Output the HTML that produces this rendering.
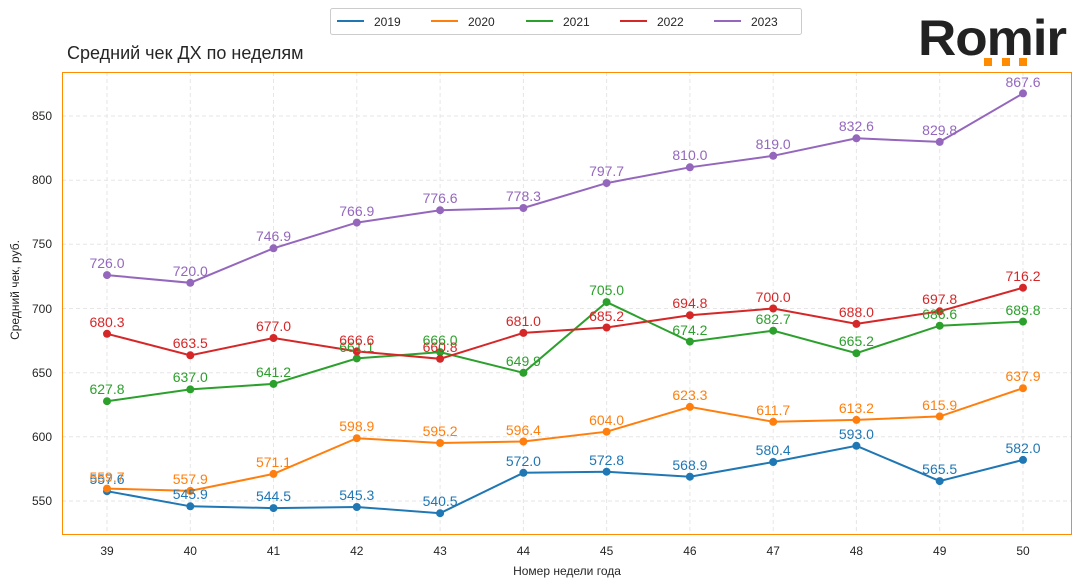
<!DOCTYPE html>
<html><head><meta charset="utf-8"><style>
body{margin:0;background:#fff;}
svg{display:block;font-family:"Liberation Sans","DejaVu Sans",sans-serif;}
</style></head><body>
<svg width="1079" height="587" viewBox="0 0 1079 587" xmlns="http://www.w3.org/2000/svg">
<rect width="1079" height="587" fill="#fff"/>
<g stroke="#e6e6e6" stroke-dasharray="4,3" stroke-width="1">
<line x1="107" y1="72" x2="107" y2="535"/><line x1="190.3" y1="72" x2="190.3" y2="535"/><line x1="273.5" y1="72" x2="273.5" y2="535"/><line x1="356.8" y1="72" x2="356.8" y2="535"/><line x1="440.1" y1="72" x2="440.1" y2="535"/><line x1="523.4" y1="72" x2="523.4" y2="535"/><line x1="606.6" y1="72" x2="606.6" y2="535"/><line x1="689.9" y1="72" x2="689.9" y2="535"/><line x1="773.2" y1="72" x2="773.2" y2="535"/><line x1="856.4" y1="72" x2="856.4" y2="535"/><line x1="939.7" y1="72" x2="939.7" y2="535"/><line x1="1023" y1="72" x2="1023" y2="535"/>
<line x1="62" y1="501" x2="1072" y2="501"/><line x1="62" y1="436.8" x2="1072" y2="436.8"/><line x1="62" y1="372.7" x2="1072" y2="372.7"/><line x1="62" y1="308.5" x2="1072" y2="308.5"/><line x1="62" y1="244.3" x2="1072" y2="244.3"/><line x1="62" y1="180.2" x2="1072" y2="180.2"/><line x1="62" y1="116" x2="1072" y2="116"/>
</g>
<rect x="62.5" y="72.5" width="1009" height="462" fill="none" stroke="#ff8c00" stroke-width="1"/>
<g font-size="12" fill="#262626" text-anchor="end">
<text x="52" y="505">550</text><text x="52" y="441">600</text><text x="52" y="377">650</text><text x="52" y="313">700</text><text x="52" y="248">750</text><text x="52" y="184">800</text><text x="52" y="120">850</text>
</g>
<g font-size="12" fill="#262626" text-anchor="middle">
<text x="107" y="555">39</text><text x="190.3" y="555">40</text><text x="273.5" y="555">41</text><text x="356.8" y="555">42</text><text x="440.1" y="555">43</text><text x="523.4" y="555">44</text><text x="606.6" y="555">45</text><text x="689.9" y="555">46</text><text x="773.2" y="555">47</text><text x="856.4" y="555">48</text><text x="939.7" y="555">49</text><text x="1023" y="555">50</text>
<text x="567" y="575">Номер недели года</text>
</g>
<text x="19" y="290" font-size="12" fill="#262626" text-anchor="middle" transform="rotate(-90 19 290)">Средний чек, руб.</text>
<text x="67" y="59" font-size="18" fill="#262626">Средний чек ДХ по неделям</text>

<g fill="none" stroke-width="2">
<polyline stroke="#1f77b4" points="107,491.2 190.3,506.3 273.5,508.1 356.8,507 440.1,513.2 523.4,472.8 606.6,471.7 689.9,476.7 773.2,462 856.4,445.8 939.7,481.1 1023,459.9"/>
<polyline stroke="#ff7f0e" points="107,488.6 190.3,490.9 273.5,473.9 356.8,438.2 440.1,443 523.4,441.5 606.6,431.7 689.9,406.9 773.2,421.8 856.4,419.9 939.7,416.4 1023,388.2"/>
<polyline stroke="#2ca02c" points="107,401.2 190.3,389.4 273.5,383.9 356.8,358.4 440.1,352.1 523.4,372.8 606.6,302.1 689.9,341.6 773.2,330.7 856.4,353.2 939.7,325.7 1023,321.6"/>
<polyline stroke="#d62728" points="107,333.8 190.3,355.3 273.5,338 356.8,351.4 440.1,358.8 523.4,332.9 606.6,327.5 689.9,315.2 773.2,308.5 856.4,323.9 939.7,311.3 1023,287.7"/>
<polyline stroke="#9467bd" points="107,275.1 190.3,282.8 273.5,248.3 356.8,222.6 440.1,210.2 523.4,208 606.6,183.1 689.9,167.3 773.2,155.8 856.4,138.3 939.7,141.9 1023,93.4"/>
</g>
<g fill="#1f77b4"><circle cx="107" cy="491.2" r="4"/><circle cx="190.3" cy="506.3" r="4"/><circle cx="273.5" cy="508.1" r="4"/><circle cx="356.8" cy="507" r="4"/><circle cx="440.1" cy="513.2" r="4"/><circle cx="523.4" cy="472.8" r="4"/><circle cx="606.6" cy="471.7" r="4"/><circle cx="689.9" cy="476.7" r="4"/><circle cx="773.2" cy="462" r="4"/><circle cx="856.4" cy="445.8" r="4"/><circle cx="939.7" cy="481.1" r="4"/><circle cx="1023" cy="459.9" r="4"/></g>
<g fill="#ff7f0e"><circle cx="107" cy="488.6" r="4"/><circle cx="190.3" cy="490.9" r="4"/><circle cx="273.5" cy="473.9" r="4"/><circle cx="356.8" cy="438.2" r="4"/><circle cx="440.1" cy="443" r="4"/><circle cx="523.4" cy="441.5" r="4"/><circle cx="606.6" cy="431.7" r="4"/><circle cx="689.9" cy="406.9" r="4"/><circle cx="773.2" cy="421.8" r="4"/><circle cx="856.4" cy="419.9" r="4"/><circle cx="939.7" cy="416.4" r="4"/><circle cx="1023" cy="388.2" r="4"/></g>
<g fill="#2ca02c"><circle cx="107" cy="401.2" r="4"/><circle cx="190.3" cy="389.4" r="4"/><circle cx="273.5" cy="383.9" r="4"/><circle cx="356.8" cy="358.4" r="4"/><circle cx="440.1" cy="352.1" r="4"/><circle cx="523.4" cy="372.8" r="4"/><circle cx="606.6" cy="302.1" r="4"/><circle cx="689.9" cy="341.6" r="4"/><circle cx="773.2" cy="330.7" r="4"/><circle cx="856.4" cy="353.2" r="4"/><circle cx="939.7" cy="325.7" r="4"/><circle cx="1023" cy="321.6" r="4"/></g>
<g fill="#d62728"><circle cx="107" cy="333.8" r="4"/><circle cx="190.3" cy="355.3" r="4"/><circle cx="273.5" cy="338" r="4"/><circle cx="356.8" cy="351.4" r="4"/><circle cx="440.1" cy="358.8" r="4"/><circle cx="523.4" cy="332.9" r="4"/><circle cx="606.6" cy="327.5" r="4"/><circle cx="689.9" cy="315.2" r="4"/><circle cx="773.2" cy="308.5" r="4"/><circle cx="856.4" cy="323.9" r="4"/><circle cx="939.7" cy="311.3" r="4"/><circle cx="1023" cy="287.7" r="4"/></g>
<g fill="#9467bd"><circle cx="107" cy="275.1" r="4"/><circle cx="190.3" cy="282.8" r="4"/><circle cx="273.5" cy="248.3" r="4"/><circle cx="356.8" cy="222.6" r="4"/><circle cx="440.1" cy="210.2" r="4"/><circle cx="523.4" cy="208" r="4"/><circle cx="606.6" cy="183.1" r="4"/><circle cx="689.9" cy="167.3" r="4"/><circle cx="773.2" cy="155.8" r="4"/><circle cx="856.4" cy="138.3" r="4"/><circle cx="939.7" cy="141.9" r="4"/><circle cx="1023" cy="93.4" r="4"/></g>

<g font-size="14" text-anchor="middle">
<g fill="#1f77b4"><text x="107" y="484">557.6</text><text x="190.3" y="499">545.9</text><text x="273.5" y="501">544.5</text><text x="356.8" y="500">545.3</text><text x="440.1" y="506">540.5</text><text x="523.4" y="466">572.0</text><text x="606.6" y="465">572.8</text><text x="689.9" y="470">568.9</text><text x="773.2" y="455">580.4</text><text x="856.4" y="439">593.0</text><text x="939.7" y="474">565.5</text><text x="1023" y="453">582.0</text></g>
<g fill="#ff7f0e"><text x="107" y="482">559.7</text><text x="190.3" y="484">557.9</text><text x="273.5" y="467">571.1</text><text x="356.8" y="431">598.9</text><text x="440.1" y="436">595.2</text><text x="523.4" y="435">596.4</text><text x="606.6" y="425">604.0</text><text x="689.9" y="400">623.3</text><text x="773.2" y="415">611.7</text><text x="856.4" y="413">613.2</text><text x="939.7" y="410">615.9</text><text x="1023" y="381">637.9</text></g>
<g fill="#2ca02c"><text x="107" y="394">627.8</text><text x="190.3" y="382">637.0</text><text x="273.5" y="377">641.2</text><text x="356.8" y="352">661.1</text><text x="440.1" y="345">666.0</text><text x="523.4" y="366">649.9</text><text x="606.6" y="295">705.0</text><text x="689.9" y="335">674.2</text><text x="773.2" y="324">682.7</text><text x="856.4" y="346">665.2</text><text x="939.7" y="319">686.6</text><text x="1023" y="315">689.8</text></g>
<g fill="#d62728"><text x="107" y="327">680.3</text><text x="190.3" y="348">663.5</text><text x="273.5" y="331">677.0</text><text x="356.8" y="345">666.6</text><text x="440.1" y="352">660.8</text><text x="523.4" y="326">681.0</text><text x="606.6" y="321">685.2</text><text x="689.9" y="308">694.8</text><text x="773.2" y="302">700.0</text><text x="856.4" y="317">688.0</text><text x="939.7" y="304">697.8</text><text x="1023" y="281">716.2</text></g>
<g fill="#9467bd"><text x="107" y="268">726.0</text><text x="190.3" y="276">720.0</text><text x="273.5" y="241">746.9</text><text x="356.8" y="216">766.9</text><text x="440.1" y="203">776.6</text><text x="523.4" y="201">778.3</text><text x="606.6" y="176">797.7</text><text x="689.9" y="160">810.0</text><text x="773.2" y="149">819.0</text><text x="856.4" y="131">832.6</text><text x="939.7" y="135">829.8</text><text x="1023" y="87">867.6</text></g>
</g>

<rect x="330.5" y="8.5" width="471" height="26" rx="2" fill="#fff" stroke="#ccc"/>
<g stroke-width="2">
<line x1="337" y1="21" x2="364" y2="21" stroke="#1f77b4"/>
<line x1="431" y1="21" x2="458" y2="21" stroke="#ff7f0e"/>
<line x1="526" y1="21" x2="553" y2="21" stroke="#2ca02c"/>
<line x1="620" y1="21" x2="647" y2="21" stroke="#d62728"/>
<line x1="714" y1="21" x2="741" y2="21" stroke="#9467bd"/>
</g>
<g font-size="12" fill="#262626">
<text x="374" y="26">2019</text><text x="468" y="26">2020</text><text x="563" y="26">2021</text><text x="657" y="26">2022</text><text x="751" y="26">2023</text>
</g>

<text x="918" y="55" font-size="50" font-weight="bold" fill="#222" letter-spacing="-1" textLength="148" lengthAdjust="spacingAndGlyphs">Romir</text>
<rect x="984" y="58" width="8" height="8" fill="#ff8c00"/>
<rect x="1002" y="58" width="8" height="8" fill="#ff8c00"/>
<rect x="1019" y="58" width="8" height="8" fill="#ff8c00"/>
</svg>
</body></html>
